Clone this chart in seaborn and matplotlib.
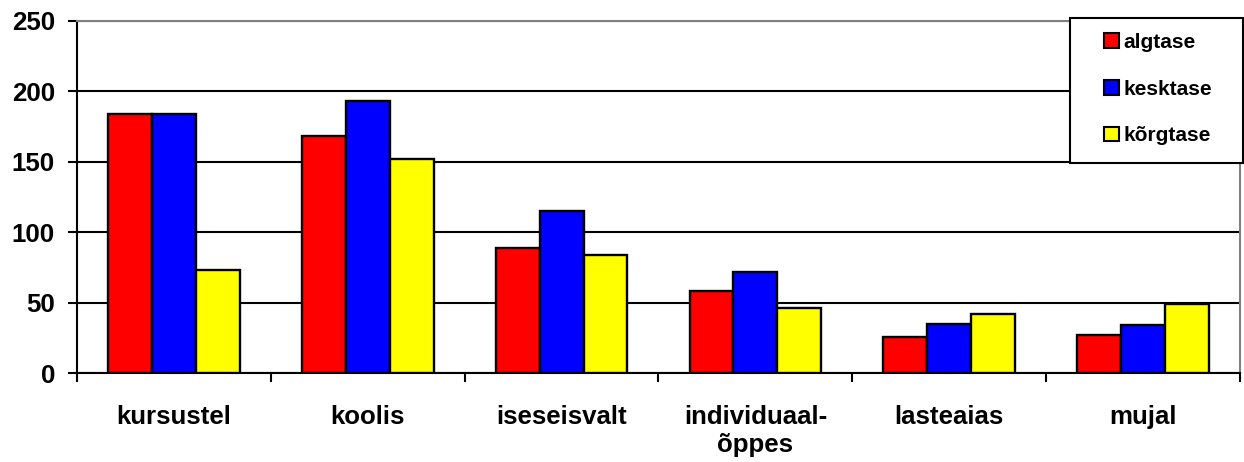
import numpy as np
import pandas as pd
import matplotlib
matplotlib.use("Agg")
import matplotlib.pyplot as plt
from matplotlib.patches import Rectangle
from matplotlib.ticker import FixedLocator
import seaborn as sns

places = ["kursustel", "koolis", "iseseisvalt", "individuaal-\nõppes", "lasteaias", "mujal"]
levels = ["algtase", "kesktase", "kõrgtase"]
algtase = [184, 168, 89, 58, 26, 27]
kesktase = [184, 193, 115, 72, 35, 34]
korgtase = [73, 152, 84, 46, 42, 49]
colors = ["#ff0000", "#0000ff", "#ffff00"]
yticks = [0, 50, 100, 150, 200, 250]

df = pd.DataFrame({
    "place": places * 3,
    "level": np.repeat(levels, len(places)),
    "count": algtase + kesktase + korgtase,
})

sns.set_style("white")
plt.rcParams["font.family"] = ["Liberation Sans", "DejaVu Sans"]
plt.rcParams["font.weight"] = "bold"
plt.rcParams["text.color"] = "black"
plt.rcParams["xtick.color"] = "black"
plt.rcParams["ytick.color"] = "black"

W, H = 1244, 462
fig = plt.figure(figsize=(W / 100, H / 100), dpi=100)
ax = fig.add_axes([77 / W, 1 - 373.3 / H, (1240 - 77) / W, (373.3 - 20.7) / H])

sns.barplot(data=df, x="place", y="count", hue="level", order=places,
            hue_order=levels, palette=colors, saturation=1, width=0.68, gap=0,
            edgecolor="black", linewidth=1.7, errorbar=None, ax=ax, zorder=3)

ax.set_xlim(-0.5, len(places) - 0.5)
ax.set_ylim(0, 250)
ax.set_yticks(yticks)
ax.set_yticklabels([str(t) for t in yticks], fontsize=18.6, fontweight="bold")
ax.set_xticks(range(len(places)))
ax.set_xticklabels(places, fontsize=18.6, fontweight="bold", linespacing=1.25)
ax.xaxis.set_minor_locator(FixedLocator(np.arange(-0.5, len(places), 1.0)))
ax.tick_params(axis="x", which="major", length=0, pad=22.5)
ax.tick_params(axis="x", which="minor", length=6.5, width=1.5, color="black",
               direction="out", bottom=True)
ax.tick_params(axis="y", length=6.5, width=1.5, color="black", direction="out",
               pad=9.4, left=True)
ax.set_xlabel("")
ax.set_ylabel("")

ax.yaxis.grid(True, color="black", linewidth=1.5)
ax.set_axisbelow(True)
for side in ["left", "bottom"]:
    ax.spines[side].set_color("black")
    ax.spines[side].set_linewidth(1.5)
for side in ["top", "right"]:
    ax.spines[side].set_color("#808080")
    ax.spines[side].set_linewidth(1.5)

# legend box
box = Rectangle((1070 / W, 1 - 162.7 / H), (1243 - 1070) / W, (162.7 - 18.3) / H,
                transform=fig.transFigure, facecolor="white", edgecolor="black",
                linewidth=1.5, zorder=10, clip_on=False)
ax.add_artist(box)

sns.move_legend(ax, loc="upper left", bbox_to_anchor=(1104 / W, 1 - 33 / H),
                bbox_transform=fig.transFigure, frameon=False, title=None,
                fontsize=15, handlelength=0.7, handleheight=0.7,
                handletextpad=0.22, labelspacing=1.33, borderpad=0,
                borderaxespad=0)
leg = ax.get_legend()
leg.set_zorder(11)
for t in leg.get_texts():
    t.set_fontweight("bold")
for h in leg.legend_handles:
    h.set_edgecolor("black")
    h.set_linewidth(1.5)

fig.savefig("out.png", dpi=100)
